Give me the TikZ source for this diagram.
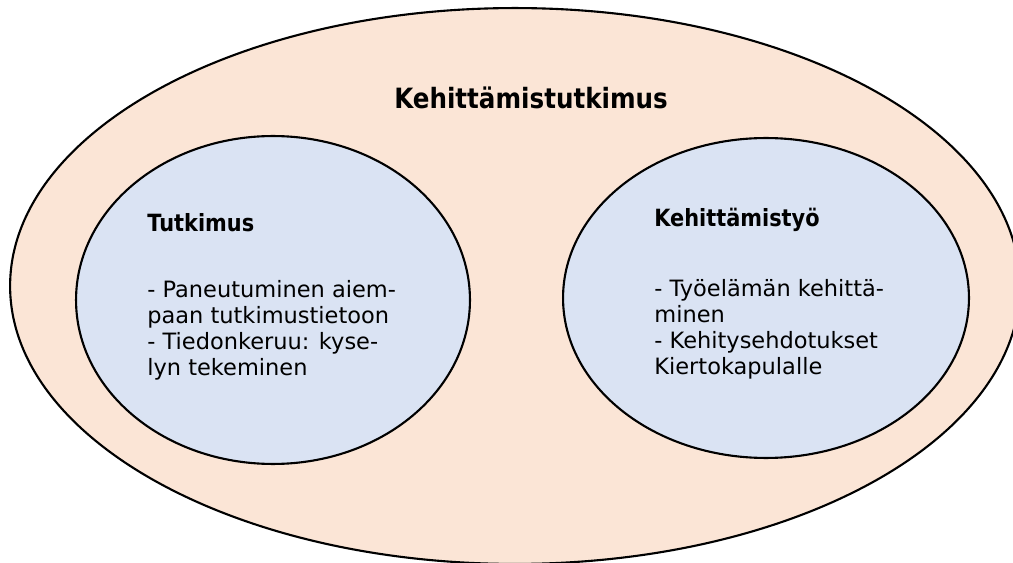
\documentclass[tikz,border=0pt]{standalone}
\usepackage{fontspec}
\setmainfont{DejaVu Sans}
\newfontfamily\narrowfont[FakeStretch=0.88]{DejaVu Sans}
\usetikzlibrary{shapes.geometric}
\definecolor{peach}{HTML}{FBE5D6}
\definecolor{paleblue}{HTML}{DAE3F3}
\tikzstyle{outer} = [ellipse, draw = black, line width=1.2pt, fill = peach, inner sep=0pt]
\tikzstyle{inner} = [ellipse, draw = black, line width=1.2pt, fill = paleblue, inner sep=0pt]
\tikzstyle{txt} = [anchor=base west, align=left, inner sep=0pt, font=\fontsize{12.8}{14.9}\selectfont]
\newcommand{\headfont}{\narrowfont\fontsize{13.5}{14.9}\selectfont\bfseries}

\begin{document}
\begin{tikzpicture}[x=0.02cm, y=-0.02cm]
	\useasboundingbox[fill=white] (0,0) rectangle (1013,563);
	\clip (0,0) rectangle (1013,563);
	\node (kt) [outer, minimum width=20.2cm, minimum height=11.12cm] at (515,286) {};
	\node (title) [font=\narrowfont\bfseries\fontsize{15.9}{18}\selectfont] at (531,98) {Kehittämistutkimus};
	\node (tutk) [inner, minimum width=7.88cm, minimum height=6.56cm] at (273,300) {};
	\node (kehi) [inner, minimum width=8.12cm, minimum height=6.4cm] at (766,298) {};
	% base anchor sits on the last line
	\node (tutktxt) [txt] at (147,376) {{\headfont Tutkimus}\\[22.5pt]
		- Paneutuminen aiem-\\paan tutkimustietoon\\- Tiedonkeruu: kyse-\\lyn tekeminen};
	\node (kehitxt) [txt] at (654,375) {{\headfont Kehittämistyö}\\[24.8pt]
		- Työelämän kehittä-\\minen\\- Kehitysehdotukset\\Kiertokapulalle};
\end{tikzpicture}
\end{document}
